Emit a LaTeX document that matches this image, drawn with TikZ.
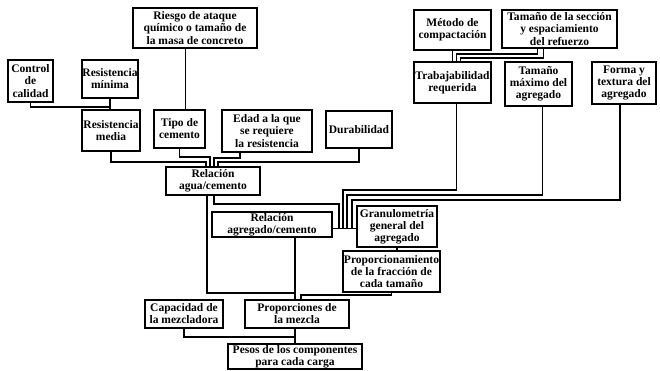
\documentclass[tikz,border=0pt]{standalone}
\usepackage{fontspec}
\setmainfont{Liberation Serif}
\usetikzlibrary{positioning, calc}

\begin{document}
\begin{tikzpicture}[x=0.025cm, y=-0.025cm,
    box/.style={draw, line width=1.3pt, align=center, inner sep=0pt,
      font=\fontsize{8.2}{8.6}\selectfont\bfseries},
    sz/.style 2 args={minimum width=#1*0.025cm, minimum height=#2*0.025cm},
    link/.style={line width=1.1pt}]
  \useasboundingbox (0,0) rectangle (660,370);
  % upper left group
  \node[box, sz={124}{40}] (riesgo) at (195,28) {Riesgo de ataque\\químico o tamaño de\\la masa de concreto};
  \node[box, sz={45}{42}] (control) at (30.5,81) {Control\\de\\calidad};
  \node[box, sz={56}{38}] (resmin) at (110,79) {Resistencia\\mínima};
  \node[box, sz={58}{41}] (resmed) at (111,130.5) {Resistencia\\media};
  \node[box, sz={51}{38}] (tipo) at (179.5,129) {Tipo de\\cemento};
  \node[box, sz={90}{42}] (edad) at (267,131) {Edad a la que\\se requiere\\la resistencia};
  \node[box, sz={66}{37}] (durab) at (359,129.5) {Durabilidad};
  \node[box, sz={94}{28}] (relagua) at (213,181) {Relación\\agua/cemento};
  % upper right group
  \node[box, sz={77}{40}] (metodo) at (452.5,30) {Método de\\compactación};
  \node[box, sz={115}{38}] (seccion) at (559.5,29) {Tamaño de la sección\\y espaciamiento\\del refuerzo};
  \node[box, sz={77}{41}] (trabaj) at (452.5,82.5) {Trabajabilidad\\requerida};
  \node[box, sz={67}{44}] (tammax) at (538.5,84) {Tamaño\\máximo del\\agregado};
  \node[box, sz={64}{42}] (forma) at (624,83) {Forma y\\textura del\\agregado};
  % middle and bottom
  \node[box, sz={120}{25}] (relagr) at (272,224.5) {Relación\\agregado/cemento};
  \node[box, sz={80}{41}] (granulo) at (397,226.5) {Granulometría\\general del\\agregado};
  \node[box, sz={97}{41}] (proporc) at (391.5,271.5) {Proporcionamiento\\de la fracción de\\cada tamaño};
  \node[box, sz={78}{28}] (capac) at (184,314) {Capacidad de\\la mezcladora};
  \node[box, sz={104}{28}] (propmez) at (297,314) {Proporciones de\\la mezcla};
  \node[box, sz={134}{25}] (pesos) at (295,356.5) {Pesos de los componentes\\para cada carga};
  \coordinate (jgr) at ($(relagr.east)+(0,4)$);

  % links into relacion agua/cemento
  \draw[link] (resmin.south) -- (resmin.south |- resmed.north);
  \draw[link] (control.south) |- ($(resmin.south)+(0,8)$);
  \draw[link] ($(tipo.north)+(6,0)$) -- ($(tipo.north |- riesgo.south)+(6,0)$);
  \draw[link] (resmed.south) -- ++(0,10) -| ($(relagua.north)+(-7,0)$);
  \draw[link] (tipo.south) -- ++(0,8) -| ($(relagua.north)+(-3,0)$);
  \draw[link] ($(edad.south)+(-27,0)$) -- ++(0,5) -| ($(relagua.north)+(1,0)$);
  \draw[link] (durab.south) -- ++(0,13) -| ($(relagua.north)+(5,0)$);
  % links of the right group
  \draw[link] (metodo.south) -- (trabaj.north);
  \draw[link] ($(seccion.south)+(-22,0)$) -- ++(0,5) -| ($(trabaj.north)+(4,0)$);
  \draw[link] ($(seccion.south)+(-16,0)$) -- ++(0,9) -| ($(trabaj.north)+(8,0)$);
  \draw[link] ($(trabaj.south)+(4,0)$) -- ++(0,86) -| ($(jgr)+(10,0)$);
  \draw[link] ($(tammax.south)+(4,0)$) -- ++(0,88) -| ($(jgr)+(14,0)$);
  \draw[link] ($(forma.south)+(-4,0)$) -- ++(0,95) -| ($(jgr)+(19,0)$);
  \draw[link] ($(relagua.south)+(1,0)$) -- ++(0,8) -| ($(jgr)+(6,0)$);
  \draw[link] (jgr) -- (jgr -| granulo.west);
  \draw[link] (granulo.south) -- (granulo.south |- proporc.north);
  % links into the mix
  \draw[link] ($(relagua.south)+(-6,0)$) |- ($(propmez.north)+(-2,-6)$);
  \draw[link] ($(propmez.north |- relagr.south)+(-2,0)$) -- ($(propmez.north)+(-2,0)$);
  \draw[link] (proporc.south) -- ++(0,2) -| ($(propmez.north)+(4,0)$);
  \draw[link] ($(propmez.south)+(-2,0)$) -- (pesos.north);
  \draw[link] (capac.south) |- ($(pesos.north)+(0,-6)$);
\end{tikzpicture}
\end{document}
